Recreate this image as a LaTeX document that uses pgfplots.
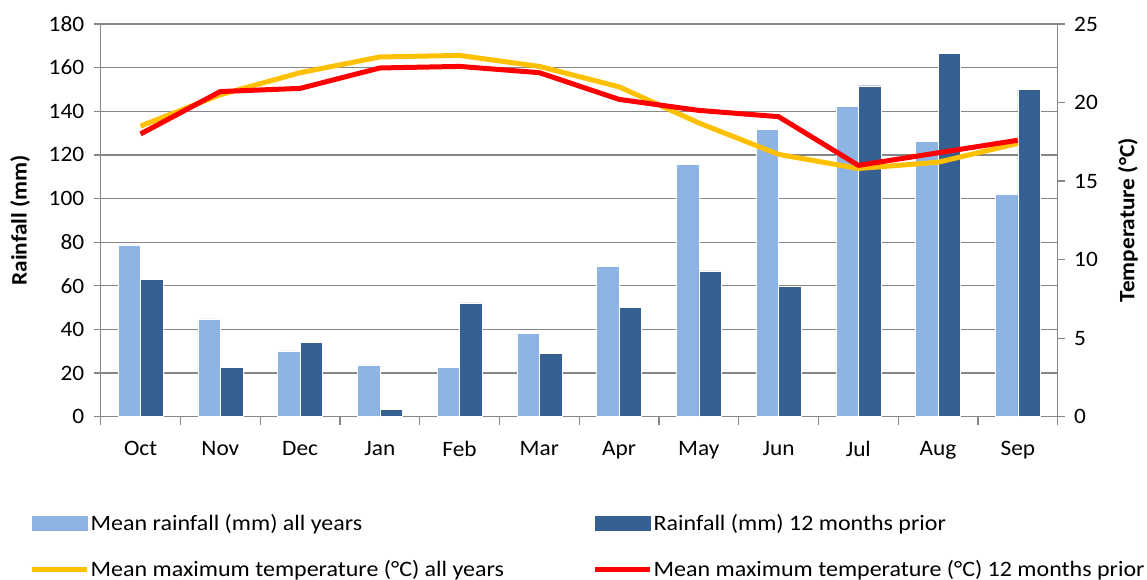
\documentclass[border=0pt]{standalone}
\usepackage{fontspec}
\setmainfont[FakeStretch=1.06]{Carlito}
\newfontfamily\legfont[FakeStretch=1.09]{Carlito}
\usepackage{pgfplots}
\pgfplotsset{compat=1.18}
\definecolor{lightbar}{RGB}{142,180,227}
\definecolor{darkbar}{RGB}{55,96,146}
\definecolor{yellowc}{RGB}{255,192,0}
\definecolor{redc}{RGB}{255,0,0}
\definecolor{gridc}{RGB}{134,134,134}
\newcommand{\tf}{\fontsize{22}{26}\selectfont}
\begin{document}
\begin{tikzpicture}[x=1pt,y=1pt]
\useasboundingbox (0,0) rectangle (1147,580);
\pgfplotsset{
  common/.style={
    at={(100.7pt,163.3pt)}, anchor=south west,
    width=957pt, height=392.7pt, scale only axis,
    xmin=-0.5, xmax=11.5,
    tick align=outside,
    major tick length=7pt,
    minor tick length=8pt,
    axis line style={gridc, line width=1.3pt},
    every tick/.style={gridc, line width=1.3pt},
    tick label style={font=\tf, black},
    /pgf/number format/assume math mode=true,
    label style={font=\tf\bfseries},
  }
}
\begin{axis}[common,
  ymin=0, ymax=180,
  axis x line*=bottom, axis y line*=left,
  ytick={0,20,...,180},
  ymajorgrids, grid style={gridc, line width=1.3pt},
  xtick={0,...,11},
  xticklabels={Oct,Nov,Dec,Jan,Feb,Mar,Apr,May,Jun,Jul,Aug,Sep},
  major x tick style={draw=none},
  minor xtick={-0.5,0.5,...,11.5},
  minor x tick style={gridc, line width=1.3pt},
  xticklabel style={yshift=-14pt},
  yticklabel style={xshift=-6pt},
  ylabel={Rainfall (mm)},
  ylabel style={at={(axis description cs:-0.0843,0.5)}, anchor=center},
  legend columns=2,
  legend cell align=left,
  legend style={draw=none, fill=none, font=\legfont\tf,
    at={(axis description cs:-0.0749,-0.2452)}, anchor=north west,
    inner sep=0pt, row sep=25pt,
    nodes={inner sep=1.5pt},
    /tikz/every even column/.append style={column sep=0pt}},
]
\addplot[ybar, bar width=0.282, bar shift=-0.141, fill=lightbar, draw=white, line width=0.4pt,
  legend image code/.code={\fill[lightbar] (0pt,-7pt) rectangle (55pt,7pt);}]
  coordinates {(0,78.7) (1,44.8) (2,30.2) (3,23.7) (4,22.5) (5,38.3) (6,68.8) (7,115.8) (8,131.7) (9,142.4) (10,126.1) (11,102.1)};
\addlegendentry{\makebox[500pt][l]{Mean rainfall (mm) all years}}
\addplot[ybar, bar width=0.282, bar shift=0.141, fill=darkbar, draw=white, line width=0.4pt,
  legend image code/.code={\fill[darkbar] (0pt,-7pt) rectangle (55pt,7pt);}]
  coordinates {(0,62.8) (1,22.5) (2,34.1) (3,3.4) (4,52.2) (5,29.1) (6,50.1) (7,66.8) (8,59.9) (9,151.7) (10,166.6) (11,150.1)};
\addlegendentry{Rainfall (mm) 12 months prior}
\addlegendimage{legend image code/.code={\draw[yellowc, line width=5pt] (0pt,0pt) -- (55pt,0pt);}}
\addlegendentry{\makebox[500pt][l]{Mean maximum temperature (°C) all years}}
\addlegendimage{legend image code/.code={\draw[redc, line width=5pt] (0pt,0pt) -- (55pt,0pt);}}
\addlegendentry{Mean maximum temperature (°C) 12 months prior}
\end{axis}
\begin{axis}[common,
  ymin=0, ymax=25,
  axis x line=none, axis y line*=right,
  ytick={0,5,...,25},
  yticklabel style={xshift=6pt},
  ylabel={Temperature (°C)},
  ylabel style={at={(axis description cs:1.0735,0.5)}, anchor=center},
]
\addplot[yellowc, line width=5pt, line join=round, mark=none]
  coordinates {(0,18.5) (1,20.5) (2,21.9) (3,22.9) (4,23.0) (5,22.3) (6,21.0) (7,18.7) (8,16.7) (9,15.8) (10,16.2) (11,17.4)};
\addplot[redc, line width=5pt, line join=round, mark=none]
  coordinates {(0,18.0) (1,20.7) (2,20.9) (3,22.2) (4,22.3) (5,21.9) (6,20.2) (7,19.5) (8,19.1) (9,16.0) (10,16.8) (11,17.6)};
\end{axis}
\end{tikzpicture}
\end{document}
